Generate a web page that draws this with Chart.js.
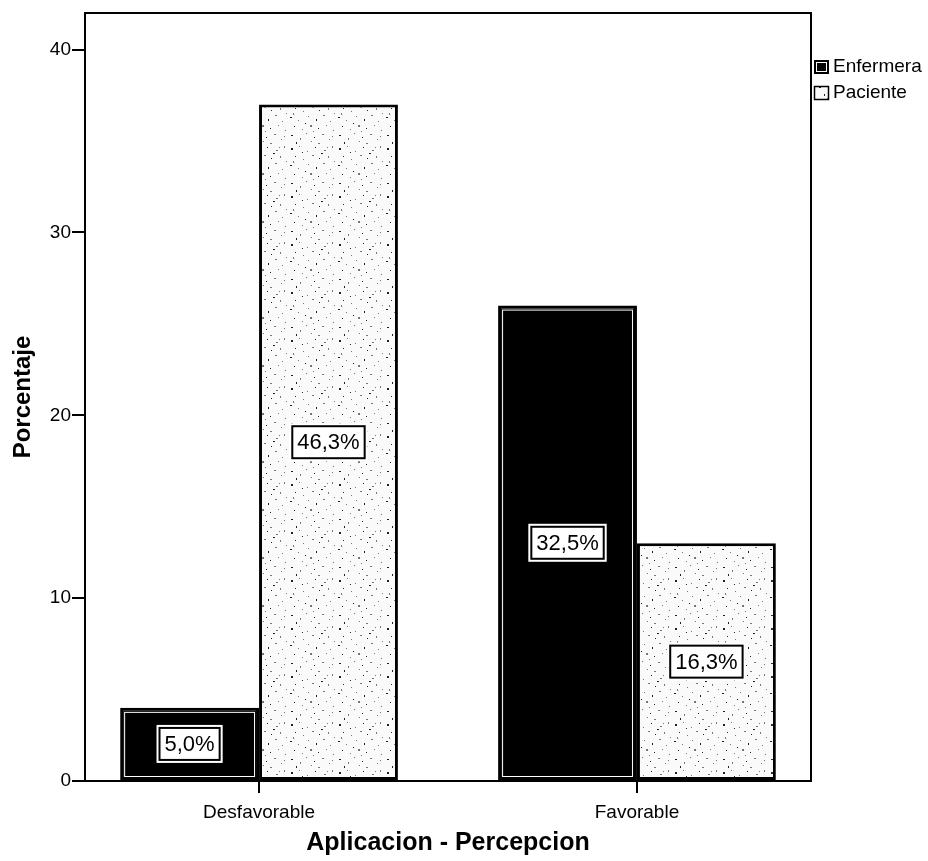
<!DOCTYPE html>
<html>
<head>
<meta charset="utf-8">
<title>Aplicacion - Percepcion</title>
<script src="https://cdn.jsdelivr.net/npm/chart.js@4.4.1/dist/chart.umd.min.js"></script>
<style>
  html, body { margin: 0; padding: 0; background: #fff; }
  canvas { display: block; }
</style>
</head>
<body>
<canvas id="chart" width="928" height="861"></canvas>
<script>
// values (counts, n = 80)
const categories = ["Desfavorable", "Favorable"];
const seriesNames = ["Enfermera", "Paciente"];
const enfermeraValues = [4, 26];
const pacienteValues = [37, 13];
const enfermeraLabels = ["5,0%", "32,5%"];
const pacienteLabels = ["46,3%", "16,3%"];
const yTicks = [0, 10, 20, 30, 40];
const yMax = 42;

const FONT = "'Liberation Sans', Arial, Helvetica, sans-serif";

// stippled fill used for the "Paciente" bars
function makeStipple() {
  const c = document.createElement("canvas");
  c.width = 48;
  c.height = 48;
  const g = c.getContext("2d");
  g.fillStyle = "#fafafa";
  g.fillRect(0, 0, 48, 48);
  const dots = [
    [3, 4], [11, 2], [19, 7], [27, 3], [36, 6], [44, 2], [7, 12], [15, 15],
    [24, 11], [31, 14], [40, 12], [46, 17], [2, 21], [10, 24], [20, 20],
    [28, 23], [35, 19], [42, 25], [6, 30], [14, 33], [22, 29], [30, 32],
    [38, 29], [45, 34], [3, 39], [12, 42], [18, 37], [26, 41], [34, 38],
    [41, 43], [8, 46], [23, 45], [30, 47], [17, 27], [39, 3], [5, 17],
    [33, 9], [25, 35], [44, 40], [14, 8]
  ];
  dots.forEach(([x, y], i) => {
    g.fillStyle = i % 3 === 0 ? "#222" : "#777";
    g.fillRect(x, y, i % 4 === 0 ? 2 : 1, i % 5 === 0 ? 2 : 1);
  });
  return g.createPattern(c, "repeat");
}

const stipple = makeStipple();

// white inner outline on the black bars
const innerLinePlugin = {
  id: "innerLine",
  afterDatasetsDraw(chart) {
    const ctx = chart.ctx;
    const meta = chart.getDatasetMeta(0);
    ctx.save();
    ctx.strokeStyle = "#fff";
    ctx.lineWidth = 1;
    meta.data.forEach(bar => {
      const { x, y, base, width } = bar.getProps(["x", "y", "base", "width"], true);
      ctx.strokeRect(x - width / 2 + 4.5, y + 4.5, width - 9, base - y - 8);
    });
    ctx.restore();
  }
};

// boxed percentage labels in the middle of each bar
const boxLabelPlugin = {
  id: "boxLabels",
  afterDatasetsDraw(chart) {
    const ctx = chart.ctx;
    const labelSets = [enfermeraLabels, pacienteLabels];
    ctx.save();
    ctx.font = "22px " + FONT;
    ctx.textAlign = "center";
    ctx.textBaseline = "middle";
    labelSets.forEach((texts, di) => {
      chart.getDatasetMeta(di).data.forEach((bar, i) => {
        const { x, y, base } = bar.getProps(["x", "y", "base"], true);
        const cy = (y + base) / 2;
        const w = ctx.measureText(texts[i]).width + 10;
        const h = 32;
        ctx.fillStyle = "#fff";
        ctx.fillRect(x - w / 2 - 3, cy - h / 2 - 3, w + 6, h + 6);
        ctx.strokeStyle = "#000";
        ctx.lineWidth = 2;
        ctx.strokeRect(x - w / 2, cy - h / 2, w, h);
        ctx.fillStyle = "#000";
        ctx.fillText(texts[i], x, cy + 1);
      });
    });
    ctx.restore();
  }
};

// box around the plot area and the legend to its right
const framePlugin = {
  id: "frame",
  afterDraw(chart) {
    const { ctx, chartArea } = chart;
    ctx.save();
    ctx.strokeStyle = "#000";
    ctx.lineWidth = 2;
    ctx.strokeRect(chartArea.left, chartArea.top, chartArea.right - chartArea.left, chartArea.bottom - chartArea.top);

    const lx = chartArea.right + 3;
    ctx.font = "19px " + FONT;
    ctx.textBaseline = "middle";
    ctx.textAlign = "left";
    seriesNames.forEach((name, i) => {
      const cy = 67 + i * 26;
      if (i === 0) {
        ctx.fillStyle = "#000";
        ctx.fillRect(lx, cy - 7, 15, 14);
        ctx.strokeStyle = "#fff";
        ctx.lineWidth = 1;
        ctx.strokeRect(lx + 2.5, cy - 4.5, 10, 9);
      } else {
        ctx.fillStyle = stipple;
        ctx.fillRect(lx, cy - 7, 15, 14);
        ctx.strokeStyle = "#000";
        ctx.lineWidth = 1.5;
        ctx.strokeRect(lx + 0.5, cy - 6.5, 14, 13);
      }
      ctx.fillStyle = "#000";
      ctx.fillText(name, lx + 19, cy);
    });
    ctx.restore();
  }
};

new Chart(document.getElementById("chart"), {
  type: "bar",
  data: {
    labels: categories,
    datasets: [
      {
        label: seriesNames[0],
        data: enfermeraValues,
        backgroundColor: "#000",
        borderColor: "#000",
        borderWidth: 3,
        borderSkipped: false
      },
      {
        label: seriesNames[1],
        data: pacienteValues,
        backgroundColor: stipple,
        borderColor: "#000",
        borderWidth: 3,
        borderSkipped: false
      }
    ]
  },
  options: {
    responsive: false,
    animation: false,
    devicePixelRatio: 1,
    categoryPercentage: 0.735,
    barPercentage: 1,
    layout: { padding: { top: 13, right: 117, left: 0, bottom: 0 } },
    plugins: {
      legend: { display: false },
      tooltip: { enabled: false }
    },
    scales: {
      x: {
        offset: true,
        border: { display: false },
        grid: { drawOnChartArea: false, offset: false, tickLength: 12, color: "#000", lineWidth: 2 },
        ticks: { color: "#000", font: { family: FONT, size: 19 }, padding: 8, maxRotation: 0 },
        title: {
          display: true,
          text: "Aplicacion - Percepcion",
          color: "#000",
          font: { family: FONT, size: 25, weight: "bold" },
          padding: { top: 0, bottom: 3 }
        },
        afterBuildTicks: scale => {
          // category centres sit a bit wider apart than the default half-width spacing
          scale._valueRange = 1.921;
          scale._startValue = -0.4605;
        },
        afterFit: scale => { scale.height = 80; }
      },
      y: {
        min: 0,
        max: yMax,
        border: { display: false },
        grid: { drawOnChartArea: false, tickLength: 13, color: "#000", lineWidth: 2 },
        ticks: { color: "#000", font: { family: FONT, size: 19 }, padding: 1 },
        afterBuildTicks: scale => { scale.ticks = yTicks.map(v => ({ value: v })); },
        title: {
          display: true,
          text: "Porcentaje",
          color: "#000",
          font: { family: FONT, size: 24, weight: "bold" },
          padding: { top: 9, bottom: 0 }
        },
        afterFit: scale => { scale.width = 85; }
      }
    }
  },
  plugins: [innerLinePlugin, boxLabelPlugin, framePlugin]
});
</script>
</body>
</html>
